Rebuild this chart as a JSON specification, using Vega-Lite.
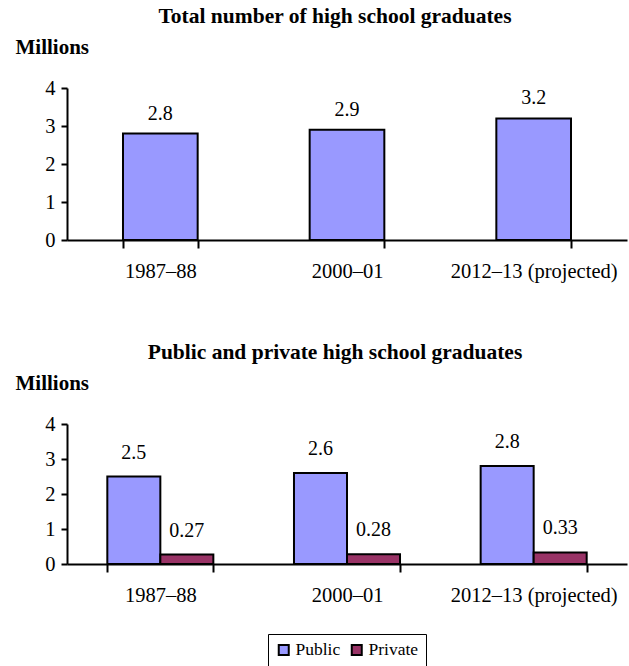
{
  "$schema": "https://vega.github.io/schema/vega-lite/v6.json",
  "padding": {"left": 15, "top": 5, "right": 2, "bottom": 0},
  "spacing": 59,
  "datasets": {
    "total": [
      {"year": "1987–88", "value": 2.8},
      {"year": "2000–01", "value": 2.9},
      {"year": "2012–13 (projected)", "value": 3.2}
    ],
    "sector": [
      {"year": "1987–88", "sector": "Public", "value": 2.5},
      {"year": "1987–88", "sector": "Private", "value": 0.27},
      {"year": "2000–01", "sector": "Public", "value": 2.6},
      {"year": "2000–01", "sector": "Private", "value": 0.28},
      {"year": "2012–13 (projected)", "sector": "Public", "value": 2.8},
      {"year": "2012–13 (projected)", "sector": "Private", "value": 0.33}
    ]
  },
  "vconcat": [
    {
      "width": 560,
      "height": 152,
      "title": {"text": "Total number of high school graduates", "dx": -12, "offset": 9},
      "data": {"name": "total"},
      "encoding": {
        "x": {"field": "year", "type": "nominal", "sort": null,
              "scale": {"paddingInner": 0.6, "paddingOuter": 0.3},
              "axis": {"title": null, "labelAngle": 0, "tickBand": "extent", "tickSize": 8, "labelPadding": 13}},
        "y": {"field": "value", "type": "quantitative",
              "scale": {"domain": [0, 4]},
              "axis": {"values": [0, 1, 2, 3, 4], "title": "Millions", "titleAngle": 0, "titleAlign": "left",
                       "titleBaseline": "alphabetic", "titleX": -52, "titleY": -35, "tickSize": 6, "labelPadding": 6}}
      },
      "layer": [
        {"mark": {"type": "bar", "color": "#9999FF", "stroke": "black", "strokeWidth": 2}},
        {"mark": {"type": "text", "baseline": "bottom", "dy": -10, "fontSize": 20},
         "encoding": {"text": {"field": "value", "type": "quantitative", "format": ".1f"}}}
      ]
    },
    {
      "width": 560,
      "height": 140,
      "title": {"text": "Public and private high school graduates", "dx": -12, "offset": 9},
      "data": {"name": "sector"},
      "encoding": {
        "x": {"field": "year", "type": "nominal", "sort": null,
              "scale": {"paddingInner": 0.432, "paddingOuter": 0.216},
              "axis": {"title": null, "labelAngle": 0, "tickBand": "extent", "tickSize": 8, "labelPadding": 13}},
        "xOffset": {"field": "sector", "type": "nominal", "sort": ["Public", "Private"]},
        "y": {"field": "value", "type": "quantitative",
              "scale": {"domain": [0, 4]},
              "axis": {"values": [0, 1, 2, 3, 4], "title": "Millions", "titleAngle": 0, "titleAlign": "left",
                       "titleBaseline": "alphabetic", "titleX": -52, "titleY": -35, "tickSize": 6, "labelPadding": 6}}
      },
      "layer": [
        {"mark": {"type": "bar", "stroke": "black", "strokeWidth": 2},
         "encoding": {
           "color": {"field": "sector", "type": "nominal",
                     "scale": {"domain": ["Public", "Private"], "range": ["#9999FF", "#993366"]},
                     "legend": {"title": null, "orient": "none", "legendX": 201, "legendY": 546, "direction": "horizontal",
                                "symbolType": "square", "symbolSize": 100, "symbolStrokeColor": "black", "symbolStrokeWidth": 2,
                                "symbolOpacity": 1, "labelFontSize": 17.5, "labelOffset": 3, "columnPadding": 6,
                                "strokeColor": "black", "fillColor": "white", "padding": 7}}
         }},
        {"mark": {"type": "text", "baseline": "bottom", "dy": -14, "fontSize": 20},
         "encoding": {"text": {"field": "value", "type": "quantitative"}}}
      ]
    }
  ],
  "config": {
    "font": "Liberation Serif",
    "view": {"stroke": null},
    "title": {"font": "Liberation Serif", "fontSize": 21.5, "fontWeight": "bold", "color": "black", "anchor": "middle"},
    "axis": {"domainColor": "black", "domainWidth": 2, "tickColor": "black", "tickWidth": 2, "grid": false,
             "labelFont": "Liberation Serif", "titleFont": "Liberation Serif",
             "labelColor": "black", "labelFontSize": 20.5, "titleColor": "black", "titleFontSize": 21, "titleFontWeight": "bold"},
    "legend": {"labelColor": "black", "labelFont": "Liberation Serif"},
    "text": {"color": "black", "font": "Liberation Serif"}
  }
}
